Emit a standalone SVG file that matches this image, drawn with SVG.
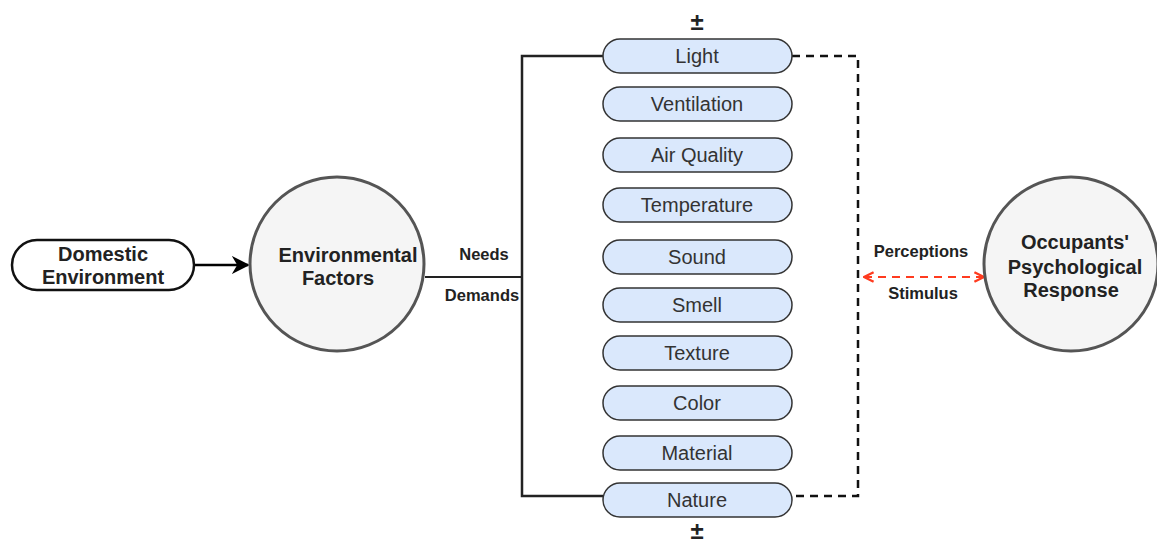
<svg xmlns="http://www.w3.org/2000/svg" width="1157" height="542" viewBox="0 0 1157 542">
<defs>
<style>
.pill{fill:#dae8fc;stroke:#333;stroke-width:1.5}
.pt{font-family:"Liberation Sans",Arial,sans-serif;font-size:20px;fill:#333;text-anchor:middle}
.bt{font-family:"Liberation Sans",Arial,sans-serif;font-size:20px;font-weight:bold;fill:#222;text-anchor:middle}
.lt{font-family:"Liberation Sans",Arial,sans-serif;font-size:16.5px;font-weight:bold;fill:#222;text-anchor:middle}
.circ{fill:#f5f5f5;stroke:#555;stroke-width:3}
</style>
<marker id="arr" viewBox="0 0 10 10" refX="9" refY="5" markerWidth="18" markerHeight="18" markerUnits="userSpaceOnUse" orient="auto">
<path d="M0,0 L10,5 L0,10 L3,5 Z" fill="#000"/>
</marker>
<marker id="rarr" viewBox="0 0 10 10" refX="9" refY="5" markerWidth="12" markerHeight="12" markerUnits="userSpaceOnUse" orient="auto-start-reverse">
<path d="M1,1 L9,5 L1,9" fill="none" stroke="#ff3b1f" stroke-width="2"/>
</marker>
</defs>
<rect width="1157" height="542" fill="#fff"/>
<g id="connectors">
<line x1="194" y1="265" x2="248" y2="265" stroke="#000" stroke-width="2.5" marker-end="url(#arr)"/>
<line x1="425" y1="277" x2="522" y2="277" stroke="#222" stroke-width="2"/>
<path d="M603,56 H522 V496 H603" fill="none" stroke="#222" stroke-width="2.5"/>
<path d="M792,56 H858 V496 H792" fill="none" stroke="#111" stroke-width="2.5" stroke-dasharray="8,6"/>
<line x1="864" y1="277" x2="984" y2="277" stroke="#ff3b1f" stroke-width="2" stroke-dasharray="8,6" marker-start="url(#rarr)" marker-end="url(#rarr)"/>
<text class="lt" x="484" y="260">Needs</text>
<text class="lt" x="482" y="301">Demands</text>
<text class="lt" x="921" y="257">Perceptions</text>
<text class="lt" x="923" y="299">Stimulus</text>
<text class="bt" x="697" y="30" style="font-size:24px">±</text>
<text class="bt" x="697" y="539" style="font-size:24px">±</text>
</g>
<g id="domestic">
<rect x="12" y="240" width="182" height="50" rx="25" fill="#fff" stroke="#111" stroke-width="2.5"/>
<text class="bt" x="103" y="261">Domestic</text>
<text class="bt" x="103" y="284">Environment</text>
</g>
<g id="envfactors">
<circle class="circ" cx="337" cy="264" r="87"/>
<text class="bt" x="348" y="262">Environmental</text>
<text class="bt" x="338" y="285">Factors</text>
</g>
<g id="occupants">
<circle class="circ" cx="1071" cy="264" r="87"/>
<text class="bt" x="1075" y="249">Occupants'</text>
<text class="bt" x="1075" y="274">Psychological</text>
<text class="bt" x="1071" y="297">Response</text>
</g>
<g id="light"><rect class="pill" x="603" y="39" width="189" height="34" rx="17"/><text class="pt" x="697" y="63">Light</text></g>
<g id="ventilation"><rect class="pill" x="603" y="87" width="189" height="34" rx="17"/><text class="pt" x="697" y="111">Ventilation</text></g>
<g id="airquality"><rect class="pill" x="603" y="138" width="189" height="34" rx="17"/><text class="pt" x="697" y="162">Air Quality</text></g>
<g id="temperature"><rect class="pill" x="603" y="188" width="189" height="34" rx="17"/><text class="pt" x="697" y="212">Temperature</text></g>
<g id="sound"><rect class="pill" x="603" y="240" width="189" height="34" rx="17"/><text class="pt" x="697" y="264">Sound</text></g>
<g id="smell"><rect class="pill" x="603" y="288" width="189" height="34" rx="17"/><text class="pt" x="697" y="312">Smell</text></g>
<g id="texture"><rect class="pill" x="603" y="336" width="189" height="34" rx="17"/><text class="pt" x="697" y="360">Texture</text></g>
<g id="color"><rect class="pill" x="603" y="386" width="189" height="34" rx="17"/><text class="pt" x="697" y="410">Color</text></g>
<g id="material"><rect class="pill" x="603" y="436" width="189" height="34" rx="17"/><text class="pt" x="697" y="460">Material</text></g>
<g id="nature"><rect class="pill" x="603" y="483" width="189" height="34" rx="17"/><text class="pt" x="697" y="507">Nature</text></g>
</svg>
